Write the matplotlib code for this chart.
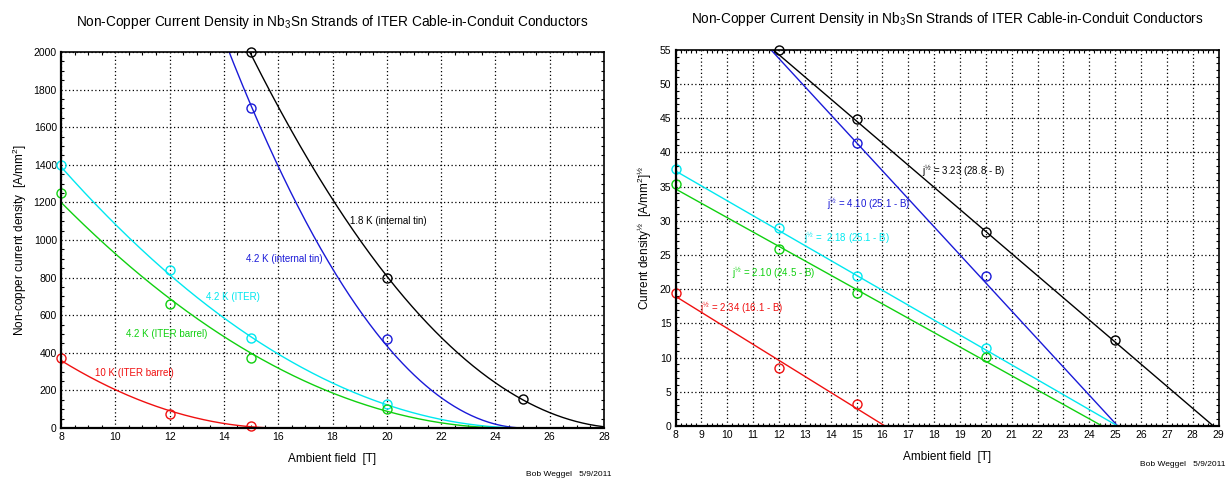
import numpy as np
import matplotlib
matplotlib.use("Agg")
import matplotlib.pyplot as plt
from matplotlib.ticker import MultipleLocator

plt.rcParams["font.family"] = ["Liberation Sans", "DejaVu Sans"]
plt.rcParams["mathtext.fontset"] = "custom"
plt.rcParams["mathtext.rm"] = "Liberation Sans"
plt.rcParams["mathtext.it"] = "Liberation Sans:italic"
plt.rcParams["mathtext.default"] = "regular"

# ---------------------------------------------------------------------------
# Data: measured points and fit parameters  j^1/2 = c (B0 - B)
# ---------------------------------------------------------------------------
series = ["1.8 K (internal tin)", "4.2 K (internal tin)", "4.2 K (ITER)",
          "4.2 K (ITER barrel)", "10 K (ITER barrel)"]
colors = ["#000000", "#1a1ad8", "#00e8f0", "#10d010", "#f01010"]
fit_c = [3.23, 4.10, 2.18, 2.10, 2.34]
fit_b0 = [28.8, 25.1, 25.1, 24.5, 16.1]

# left panel: non-copper current density [A/mm^2]
pts_B_left = [[15, 20, 25], [15, 20], [8, 12, 15, 20], [8, 12, 15, 20], [8, 12, 15]]
pts_j_left = [[2000, 800, 157], [1700, 475], [1400, 840, 478, 130],
              [1250, 660, 375, 100], [375, 72, 12]]

# right panel: sqrt of current density
pts_B_right = [[12, 15, 20, 25], [15, 20], [8, 12, 15, 20], [8, 12, 15, 20], [8, 12, 15]]
pts_j_right = [[55.0, 44.8, 28.3, 12.5], [41.3, 21.9], [37.5, 29.0, 21.9, 11.4],
               [35.4, 25.8, 19.4, 10.1], [19.4, 8.5, 3.2]]

left_labels = series
left_label_pos = [(18.65, 1100), (14.8, 900), (13.35, 695), (10.4, 500), (9.25, 290)]

right_labels = ["j$^{½}$ = 3.23 (28.8 - B)", "j$^{½}$ = 4.10 (25.1 - B)",
                "j$^{½}$ =  2.18 (25.1 - B)", "j$^{½}$ = 2.10 (24.5 - B)",
                "j$^{½}$ = 2.34 (16.1 - B)"]
right_label_pos = [(17.55, 37.2), (13.85, 32.5), (12.95, 27.4), (10.2, 22.3), (8.95, 17.3)]

title = "Non-Copper Current Density in Nb$_3$Sn Strands of ITER Cable-in-Conduit Conductors"
credit = "Bob Weggel   5/9/2011"

fig = plt.figure(figsize=(12.3, 4.8), dpi=100)
ax_l = fig.add_axes([0.0496, 0.1083, 0.4415, 0.7833])
ax_r = fig.add_axes([0.5492, 0.1125, 0.4415, 0.7840])

grid_kw = dict(color="black", linestyle=(0, (1, 2)), linewidth=0.9)


def style_axes(ax):
    ax.grid(True, which="major", **grid_kw)
    ax.set_axisbelow(True)
    ax.tick_params(which="both", direction="in", top=True, right=True,
                   labelsize=7.5, pad=3)
    ax.tick_params(which="major", length=0)
    ax.tick_params(which="minor", length=2.5, width=0.8)
    for side in ["left", "bottom"]:
        ax.spines[side].set_linewidth(1.6)
    for side in ["top", "right"]:
        ax.spines[side].set_linewidth(1.2)


B = np.linspace(8, 29, 600)

# ---------------------------------------------------------------------------
# Left panel: current density
# ---------------------------------------------------------------------------
for i, name in enumerate(series):
    j = (fit_c[i] * np.clip(fit_b0[i] - B, 0, None)) ** 2
    ax_l.plot(B, j, color=colors[i], linewidth=1.0)
    ax_l.plot(pts_B_left[i], pts_j_left[i], "o", mfc="none", mec=colors[i],
              markersize=6.5, mew=1.0, clip_on=False)
    ax_l.text(left_label_pos[i][0], left_label_pos[i][1], left_labels[i],
              color=colors[i], fontsize=7, va="center", ha="left")

ax_l.set_xlim(8, 28)
ax_l.set_ylim(0, 2000)
ax_l.xaxis.set_major_locator(MultipleLocator(2))
ax_l.xaxis.set_minor_locator(MultipleLocator(0.5))
ax_l.yaxis.set_major_locator(MultipleLocator(200))
ax_l.yaxis.set_minor_locator(MultipleLocator(50))
style_axes(ax_l)
ax_l.set_title(title, fontsize=9.8, pad=19)
ax_l.set_xlabel("Ambient field  [T]", fontsize=8.5, labelpad=8)
ax_l.set_ylabel("Non-copper current density  [A/mm$^2$]", fontsize=8.5, labelpad=3)

# ---------------------------------------------------------------------------
# Right panel: sqrt of current density (straight lines)
# ---------------------------------------------------------------------------
for i, name in enumerate(series):
    jr = fit_c[i] * (fit_b0[i] - B)
    ax_r.plot(B, jr, color=colors[i], linewidth=1.0)
    ax_r.plot(pts_B_right[i], pts_j_right[i], "o", mfc="none", mec=colors[i],
              markersize=6.5, mew=1.0, clip_on=False)
    ax_r.text(right_label_pos[i][0], right_label_pos[i][1], right_labels[i],
              color=colors[i], fontsize=7, va="center", ha="left")

ax_r.set_xlim(8, 29)
ax_r.set_ylim(0, 55)
ax_r.xaxis.set_major_locator(MultipleLocator(1))
ax_r.xaxis.set_minor_locator(MultipleLocator(0.2))
ax_r.yaxis.set_major_locator(MultipleLocator(5))
ax_r.yaxis.set_minor_locator(MultipleLocator(1))
style_axes(ax_r)
ax_r.set_title(title, fontsize=9.8, pad=19)
ax_r.set_xlabel("Ambient field  [T]", fontsize=8.5, labelpad=8)
ax_r.set_ylabel("Current density$^{½}$  [A/mm$^{2}$]$^{½}$", fontsize=8.5, labelpad=4)

fig.text(611 / 1230, 1 - 475 / 480, credit, fontsize=6, ha="right", va="center")
fig.text(1226 / 1230, 1 - 464 / 480, credit, fontsize=6, ha="right", va="center")

fig.savefig("out.png", dpi=100)
